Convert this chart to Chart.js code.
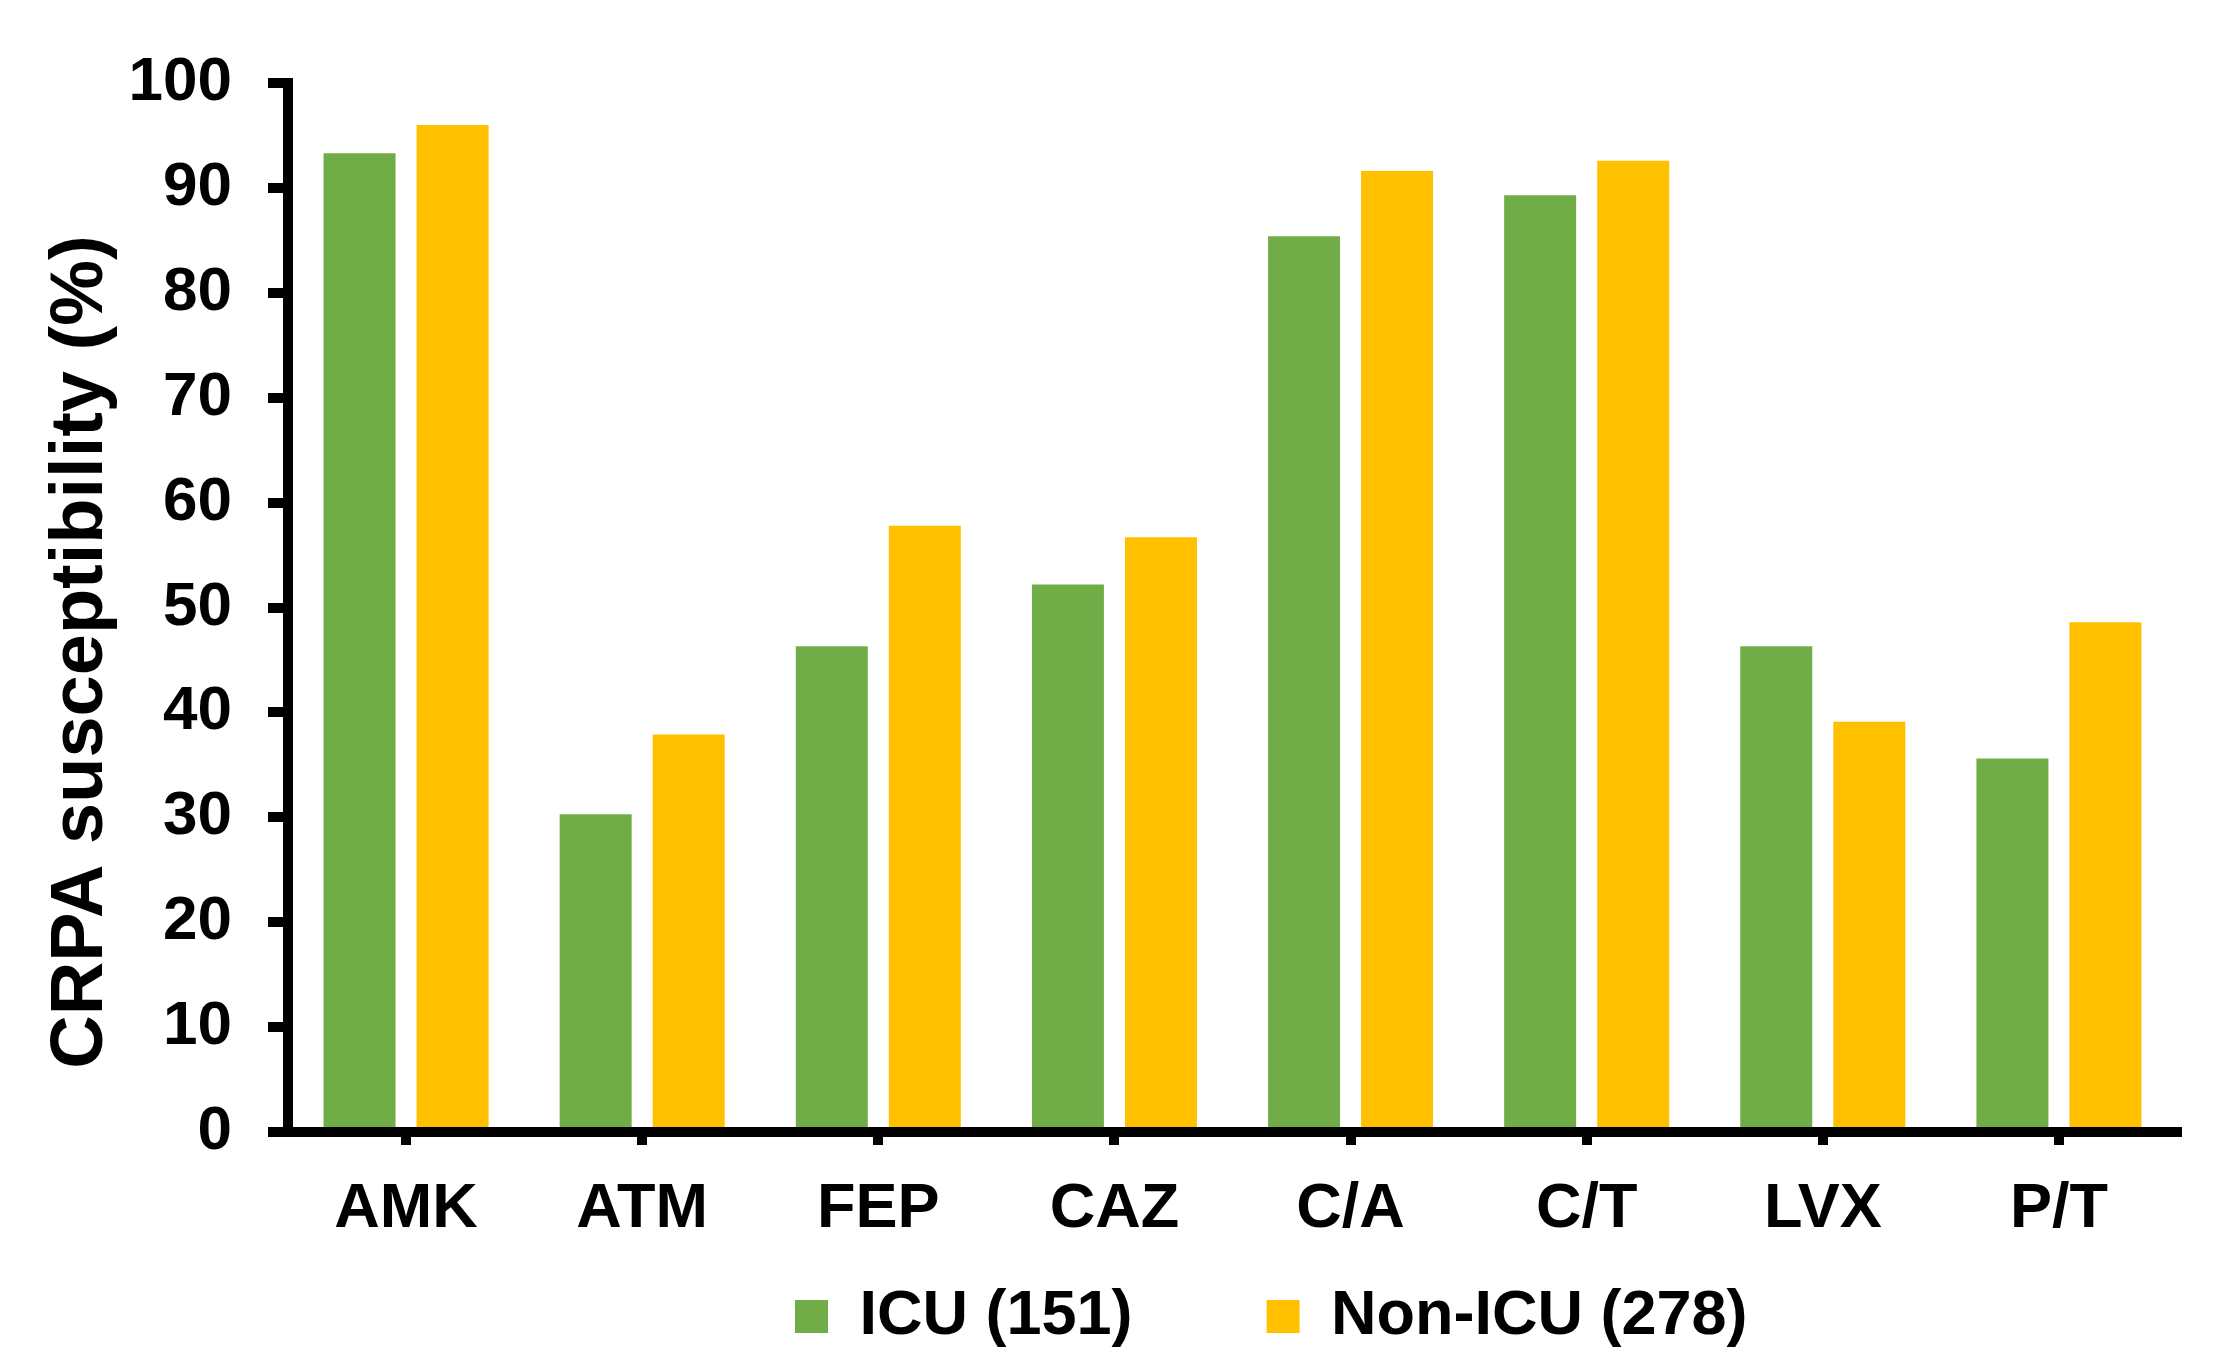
<!DOCTYPE html>
<html>
<head>
<meta charset="utf-8">
<script src="https://cdn.jsdelivr.net/npm/chart.js@4.4.1/dist/chart.umd.min.js"></script>
<style>
  html, body { margin: 0; padding: 0; background: #ffffff; }
  #wrap { width: 2224px; height: 1361px; }
</style>
</head>
<body>
<div id="wrap"><canvas id="c" width="2224" height="1361"></canvas></div>
<script>
// ---- data ----
const categories = ['AMK', 'ATM', 'FEP', 'CAZ', 'C/A', 'C/T', 'LVX', 'P/T'];
const icuValues = [93.3, 30.3, 46.3, 52.2, 85.4, 89.3, 46.3, 35.6];
const nonIcuValues = [96.0, 37.9, 57.8, 56.7, 91.6, 92.6, 39.1, 48.6];
const seriesNames = ['ICU (151)', 'Non-ICU (278)'];
const yTickMin = 0;
const yTickMax = 100;
const yTickStep = 10;
const yAxisTitle = 'CRPA susceptibility (%)';

// ---- style / layout ----
const FONT = "'Liberation Sans', Arial, Helvetica, sans-serif";
const GREEN = '#70AD47';
const YELLOW = '#FFC000';
const CANVAS_H = 1361;
const AREA_LEFT = 288;
const AREA_RIGHT = 2177;
const AREA_TOP = 83;
const AREA_BOTTOM = 1132;
const LEGEND_LAYOUT_H = 105;
const LEGEND_START_X = 795;
const LEGEND_TOP = 1151;
const LEGEND_PAD = 134;

const legendPlacer = {
  id: 'legendPlacer',
  afterLayout(chart) {
    const lg = chart.legend;
    if (!lg || !lg.lineWidths) return;
    const P = lg.options.labels.padding;
    const lw = lg.lineWidths[0];
    const curStart = (lg.left + P + lg.right - lw) / 2;
    const dx = LEGEND_START_X - curStart;
    lg.left += dx;
    lg.right += dx;
    lg.top = LEGEND_TOP;
    lg.bottom = CANVAS_H;
  }
};

const yTitlePlugin = {
  id: 'yTitle',
  afterDraw(chart) {
    const ctx = chart.ctx;
    ctx.save();
    ctx.translate(82, 652);
    ctx.rotate(-Math.PI / 2);
    ctx.font = 'bold 74px ' + FONT;
    ctx.fillStyle = '#000000';
    ctx.textAlign = 'center';
    ctx.textBaseline = 'middle';
    ctx.fillText(yAxisTitle, 0, 0);
    ctx.restore();
  }
};

const ctx = document.getElementById('c').getContext('2d');
new Chart(ctx, {
  type: 'bar',
  data: {
    labels: categories,
    datasets: [
      { label: seriesNames[0], data: icuValues, backgroundColor: GREEN, borderWidth: 0,
        categoryPercentage: 0.788, barPercentage: 0.774 },
      { label: seriesNames[1], data: nonIcuValues, backgroundColor: YELLOW, borderWidth: 0,
        categoryPercentage: 0.788, barPercentage: 0.774 }
    ]
  },
  options: {
    responsive: false,
    animation: false,
    devicePixelRatio: 1,
    layout: { padding: { left: 0, right: 2224 - AREA_RIGHT, top: AREA_TOP, bottom: 0 } },
    plugins: {
      tooltip: { enabled: false },
      title: { display: false },
      legend: {
        display: true,
        position: 'bottom',
        maxHeight: LEGEND_LAYOUT_H,
        labels: {
          color: '#000000',
          boxWidth: 33,
          boxHeight: 33,
          padding: LEGEND_PAD,
          font: { family: FONT, size: 63, weight: 'bold' }
        }
      }
    },
    scales: {
      x: {
        offset: true,
        ticks: {
          color: '#000000',
          font: { family: FONT, size: 63, weight: 'bold' },
          padding: 27,
          maxRotation: 0,
          autoSkip: false
        },
        grid: {
          offset: false,
          drawOnChartArea: false,
          drawTicks: true,
          tickLength: 13,
          tickWidth: 10,
          tickColor: '#000000',
          lineWidth: 10,
          color: '#000000'
        },
        border: { display: true, color: '#000000', width: 10 },
        afterFit: (s) => {
          s.height = CANVAS_H - AREA_BOTTOM - LEGEND_LAYOUT_H;
        }
      },
      y: {
        min: yTickMin,
        max: yTickMax,
        ticks: {
          stepSize: yTickStep,
          color: '#000000',
          font: { family: FONT, size: 62, weight: 'bold' },
          padding: 36
        },
        grid: {
          drawOnChartArea: false,
          drawTicks: true,
          tickLength: 20,
          tickWidth: 10,
          tickColor: '#000000',
          lineWidth: 10,
          color: '#000000'
        },
        border: { display: true, color: '#000000', width: 10 },
        afterFit: (s) => { s.width = AREA_LEFT; }
      }
    }
  },
  plugins: [legendPlacer, yTitlePlugin]
});
</script>
</body>
</html>
